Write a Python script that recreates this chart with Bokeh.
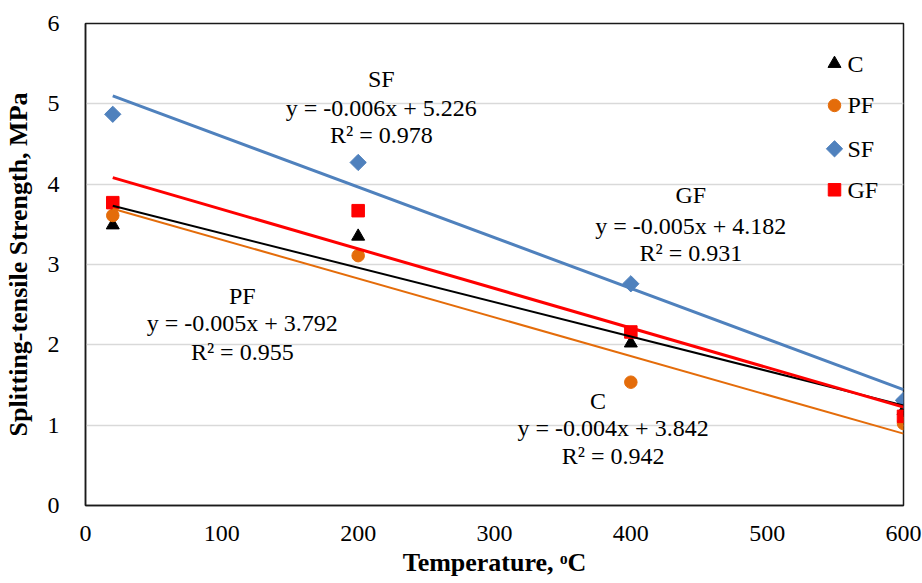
import numpy as np
from bokeh.plotting import figure
from bokeh.models import Range1d, FixedTicker
from bokeh.embed import file_html
from bokeh.resources import INLINE
from bokeh.core.properties import value

# Splitting-tensile strength (MPa) after exposure to each temperature (oC)
temperature = [20, 200, 400, 600]
strength_c = [3.49, 3.35, 2.02, 1.18]
strength_pf = [3.61, 3.11, 1.535, 1.02]
strength_sf = [4.87, 4.27, 2.76, 1.31]
strength_gf = [3.77, 3.67, 2.16, 1.11]

series_names = ["C", "PF", "SF", "GF"]
x_ticks = [0, 100, 200, 300, 400, 500, 600]
y_ticks = [0, 1, 2, 3, 4, 5, 6]

# Trendline equation labels for each mix
fit_equations = ["y = -0.004x + 3.842", "y = -0.005x + 3.792",
                 "y = -0.006x + 5.226", "y = -0.005x + 4.182"]
fit_r2 = ["R\u00b2 = 0.942", "R\u00b2 = 0.955", "R\u00b2 = 0.978", "R\u00b2 = 0.931"]

FONT = "Liberation Serif"

p = figure(width=922, height=583, x_range=Range1d(0, 600), y_range=Range1d(0, 6),
           output_backend="svg", toolbar_location=None,
           min_border_left=85, min_border_right=19, min_border_top=23, min_border_bottom=78)

p.background_fill_color = "white"
p.border_fill_color = "white"
p.outline_line_color = "#1a1a1a"
p.outline_line_width = 1.5

p.xgrid.visible = False
p.ygrid.grid_line_color = "#d9d9d9"
p.ygrid.grid_line_width = 1.5

for ax in (p.xaxis[0], p.yaxis[0]):
    ax.major_label_text_font = FONT
    ax.major_label_text_font_size = "24px"
    ax.major_label_text_color = "black"
    ax.axis_label_text_font = FONT
    ax.axis_label_text_font_size = "26px"
    ax.axis_label_text_font_style = "bold"
    ax.axis_label_text_color = "black"
    ax.major_tick_line_color = None
    ax.minor_tick_line_color = None
    ax.axis_line_color = "#1a1a1a"
    ax.axis_line_width = 1.5

p.xaxis.ticker = FixedTicker(ticks=x_ticks)
p.yaxis.ticker = FixedTicker(ticks=y_ticks)
p.xaxis.axis_label = "Temperature, \u1d52C"
p.yaxis.axis_label = "Splitting-tensile Strength, MPa"
p.xaxis.major_label_standoff = 14
p.yaxis.major_label_standoff = 20
p.xaxis.axis_label_standoff = 4
p.yaxis.axis_label_standoff = 12

styles = {
    "C": dict(marker="triangle", size=13, color="black", angle=0.0, lw=2),
    "PF": dict(marker="circle", size=12.5, color="#E46C0A", angle=0.0, lw=2),
    "SF": dict(marker="square", size=11.5, color="#4F81BD", angle=np.pi / 4, lw=3),
    "GF": dict(marker="square", size=12.5, color="#FF0000", angle=0.0, lw=3),
}
values = {"C": strength_c, "PF": strength_pf, "SF": strength_sf, "GF": strength_gf}

for name in series_names:
    st = styles[name]
    p.scatter(temperature, values[name], marker=st["marker"], size=st["size"],
              fill_color=st["color"], line_color=st["color"], angle=st["angle"])

# Linear least-squares trendlines
for name in ["C", "PF", "GF", "SF"]:
    st = styles[name]
    slope, intercept = np.polyfit(temperature, values[name], 1)
    xs = [temperature[0], temperature[-1]]
    ys = [slope * x + intercept for x in xs]
    p.line(xs, ys, line_color=st["color"], line_width=st["lw"])

# Trendline labels (name, equation, R^2), placed in data coordinates
label_pos = {
    "SF": (217, [5.315, 4.954, 4.618]),
    "GF": (444, [3.859, 3.485, 3.149]),
    "PF": (115, [2.614, 2.266, 1.917]),
    "C": (387, [1.307, 0.959, 0.622]),
}
tx, ty, tt = [], [], []
for i, name in enumerate(series_names):
    x0, ys = label_pos[name]
    for y, t in zip(ys, [name, fit_equations[i], fit_r2[i]]):
        tx.append(376 if (name == "C" and t == name) else x0)
        ty.append(y)
        tt.append(t)
p.text(x=tx, y=ty, text=tt, text_font=value(FONT), text_font_size="24px",
       text_align="center", text_baseline="middle", text_color="black")

# Legend: marker + name, stacked in the upper-right corner
legend_x_marker = 549.4
legend_x_text = 558.9
legend_rows = [5.50, 4.98, 4.44, 3.93]
for name, y in zip(series_names, legend_rows):
    st = styles[name]
    p.scatter([legend_x_marker], [y], marker=st["marker"], size=st["size"],
              fill_color=st["color"], line_color=st["color"], angle=st["angle"])
p.text(x=[legend_x_text] * len(series_names), y=legend_rows, text=series_names,
       text_font=value(FONT), text_font_size="24px",
       text_align="left", text_baseline="middle", text_color="black")

open("out.html", "w").write(file_html(p, INLINE))
